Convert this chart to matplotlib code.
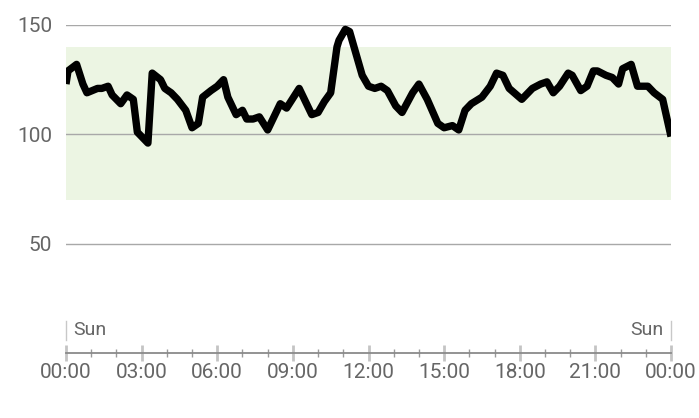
import numpy as np
import matplotlib
matplotlib.use("Agg")
import matplotlib.pyplot as plt
from matplotlib.ticker import FixedLocator, FuncFormatter

plt.rcParams['font.family'] = ['Roboto', 'DejaVu Sans']

# hours since midnight
hours = [0.0, 0.08, 0.42, 0.67, 0.83, 1.25, 1.42, 1.67, 1.83, 2.17, 2.42, 2.67,
         2.83, 3.25, 3.42, 3.75, 3.92, 4.17, 4.42, 4.75, 5.0, 5.25, 5.42, 5.75,
         6.0, 6.25, 6.42, 6.75, 7.0, 7.17, 7.42, 7.67, 8.0, 8.25, 8.5, 8.75,
         9.25, 9.5, 9.75, 10.0, 10.25, 10.5, 10.75, 10.83, 11.08, 11.25, 11.75,
         12.0, 12.25, 12.5, 12.75, 13.08, 13.33, 13.75, 14.0, 14.33, 14.75,
         15.0, 15.33, 15.58, 15.83, 16.08, 16.5, 16.83, 17.08, 17.33, 17.58,
         18.08, 18.5, 18.83, 19.08, 19.33, 19.58, 19.92, 20.08, 20.42, 20.67,
         20.92, 21.08, 21.42, 21.67, 21.92, 22.08, 22.42, 22.67, 23.08, 23.33,
         23.67, 24.0]
values = [123, 129, 132, 123, 119, 121, 121, 122, 118, 114, 118, 116,
          101, 96, 128, 125, 121, 119, 116, 111, 103, 105, 117, 120,
          122, 125, 117, 109, 111, 107, 107, 108, 102, 108, 114, 112,
          121, 115, 109, 110, 115, 119, 140, 143, 148, 147, 127,
          122, 121, 122, 120, 113, 110, 119, 123, 116, 105,
          103, 104, 102, 111, 114, 117, 122, 128, 127, 121,
          116, 121, 123, 124, 119, 122, 128, 127, 120, 122,
          129, 129, 127, 126, 123, 130, 132, 122, 122, 119,
          116, 99]

band_low, band_high = 70, 140
y_ticks = [50, 100, 150]
x_major = list(range(0, 25, 3))
x_minor = list(range(0, 25))
day_label = "Sun"

gray_text = '#666666'

fig = plt.figure(figsize=(6.99, 4.18), dpi=100)
ax = fig.add_axes([66 / 699, 1 - 353 / 418, 605 / 699, 328 / 418])

ax.axhspan(band_low, band_high, color='#ecf5e3', zorder=0, lw=0)
for yv in y_ticks:
    ax.axhline(yv, color='#a8a8a8', lw=1, zorder=1)

ax.plot(hours, values, color='black', lw=5.3, solid_joinstyle='round',
        solid_capstyle='butt', zorder=3)

ax.set_xlim(0, 24)
ax.set_ylim(0, 150)

for s in ['top', 'right', 'left']:
    ax.spines[s].set_visible(False)
ax.spines['bottom'].set_color('#8a8a8a')
ax.spines['bottom'].set_linewidth(1.3)

ax.yaxis.set_major_locator(FixedLocator(y_ticks))
ax.tick_params(axis='y', length=0, pad=10, labelsize=15, labelcolor=gray_text)

ax.xaxis.set_major_locator(FixedLocator(x_major))
ax.xaxis.set_minor_locator(FixedLocator(x_minor))
ax.xaxis.set_major_formatter(FuncFormatter(lambda v, p: f"{int(v) % 24:02d}:00"))
ax.tick_params(axis='x', which='major', direction='inout', length=12, width=2,
               color='#c4c4c4', pad=1.5, labelsize=15, labelcolor=gray_text)
ax.tick_params(axis='x', which='minor', direction='inout', length=6, width=1,
               color='#9a9a9a')

# day markers
for xv, ha, dx in [(0, 'left', 0.28), (24, 'right', -0.28)]:
    ax.axvline(xv, ymin=0.040, ymax=0.098, color='#c8c8c8', lw=1, clip_on=False)
    ax.text(xv + dx, 0.069, day_label, transform=ax.get_xaxis_transform(),
            ha=ha, va='center', fontsize=14, color=gray_text)

fig.savefig('out.png', dpi=100)
